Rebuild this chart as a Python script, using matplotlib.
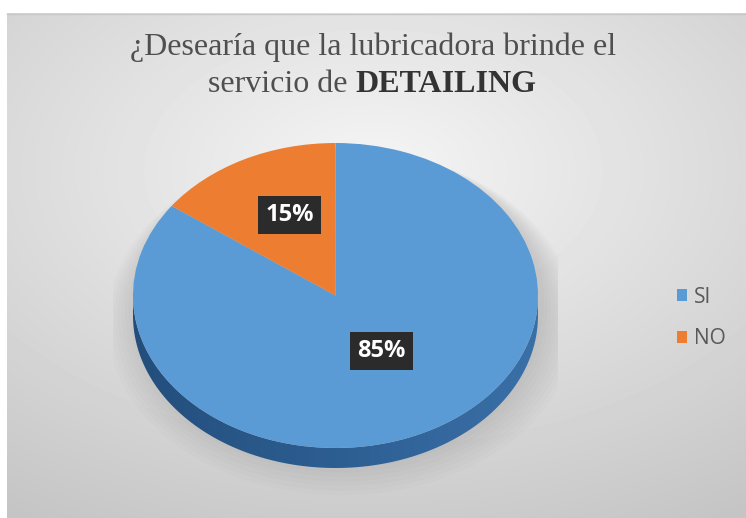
import numpy as np
import matplotlib.pyplot as plt
from matplotlib.patches import Ellipse, Polygon
from matplotlib.colors import LinearSegmentedColormap

# survey answers
labels = ['SI', 'NO']
shares = [85, 15]
colors = ['#5B9BD5', '#ED7D31']
side_colors = ['#234E7C', '#2D5E92', '#3A70A8']

title_1 = '¿Desearía que la lubricadora brinde el'
title_2a = 'servicio de'
title_2b = 'DETAILING'

W, H = 746, 518
fig = plt.figure(figsize=(W / 100, H / 100), dpi=100)

# chart area: grey radial gradient, pixel coordinates
bg = fig.add_axes([0, 0, 1, 1])
bg.set_xlim(0, W)
bg.set_ylim(H, 0)
bg.axis('off')
yy, xx = np.mgrid[13:H, 7:W]
rr = np.hypot((xx - 373) / 700, (yy - 170) / 430)
shade = np.clip(0.96 - 0.2 * rr, 0.77, 0.96)
bg.imshow(shade, cmap='gray', vmin=0, vmax=1, extent=(7, W, H, 13),
          aspect='auto', interpolation='bilinear')
bg.plot([7, W], [13.5, 13.5], color='#C8C8C8', lw=1)

# pie axes, stretched so the circle becomes a tilted ellipse
cx, cy = 335.5, 295.5
rx, ry = 202.5, 152.5
x0, x1, y0, y1 = -1.1, 1.1, -1.35, 1.1
ax = fig.add_axes([(cx + x0 * rx) / W, (H - (cy - y0 * ry)) / H,
                   (x1 - x0) * rx / W, (y1 - y0) * ry / H])

# soft shadow under the disc, kept below the top rim
for k in range(10):
    h = 2.0 + 0.03 * k
    ax.add_patch(Ellipse((0.03, 0.98 - h / 2 - 0.02), 2.0 + 0.035 * k, h,
                         fc='black', alpha=0.012, lw=0, zorder=0.2))

# side of the disc
depth = 20 / ry
t = np.linspace(np.pi, 2 * np.pi, 200)
top_edge = np.column_stack([np.cos(t), np.sin(t)])
bot_edge = np.column_stack([np.cos(t[::-1]), np.sin(t[::-1]) - depth])
side = Polygon(np.vstack([top_edge, bot_edge]), closed=True, fc='none', ec='none')
ax.add_patch(side)
side_cmap = LinearSegmentedColormap.from_list('side', side_colors)
grad = ax.imshow(np.linspace(0, 1, 256)[None, :], cmap=side_cmap,
                 extent=(-1, 1, -1 - depth, 0), aspect='auto', zorder=0.5)
grad.set_clip_path(side)

# top of the disc
wedges, _ = ax.pie(shares, colors=colors, startangle=90, counterclock=False,
                   radius=1, wedgeprops=dict(linewidth=0))
for w in wedges:
    w.set_zorder(1)

for w, v in zip(wedges, shares):
    mid = np.deg2rad((w.theta1 + w.theta2) / 2)
    ax.text(0.5 * np.cos(mid), 0.5 * np.sin(mid) + 0.08, f'{v}%',
            ha='center', va='center', fontsize=17, fontweight='bold',
            family='Open Sans', color='white', zorder=3,
            bbox=dict(boxstyle='square,pad=0.3', fc='#2B2B2B', ec='none'))

ax.set_aspect('auto')
ax.set_xlim(x0, x1)
ax.set_ylim(y0, y1)
ax.axis('off')

leg = fig.legend(wedges, labels, loc='center left',
                 bbox_to_anchor=(677 / W, 1 - 318 / H),
                 frameon=False, prop=dict(family='Open Sans', size=15),
                 handlelength=0.5, handleheight=0.5, handletextpad=0.3,
                 labelspacing=1.0, borderpad=0, borderaxespad=0)
for txt in leg.get_texts():
    txt.set_color('#595959')

# title, second line mixes regular and bold
bg.text(373, 55, title_1, ha='center', va='baseline', fontsize=23,
        family='Liberation Serif', color='#4F4F4F')
t2a = bg.text(0, 92, title_2a, ha='left', va='baseline', fontsize=23,
              family='Liberation Serif', color='#4F4F4F')
t2b = bg.text(0, 92, title_2b, ha='left', va='baseline', fontsize=23,
              family='Liberation Serif', fontweight='bold', color='#333333')
renderer = fig.canvas.get_renderer()
wa = t2a.get_window_extent(renderer).width
wb = t2b.get_window_extent(renderer).width
gap = 0.25 * 23 * 100 / 72
start = 372 - (wa + gap + wb) / 2
t2a.set_x(start)
t2b.set_x(start + wa + gap)

fig.savefig('out.png', dpi=100)
